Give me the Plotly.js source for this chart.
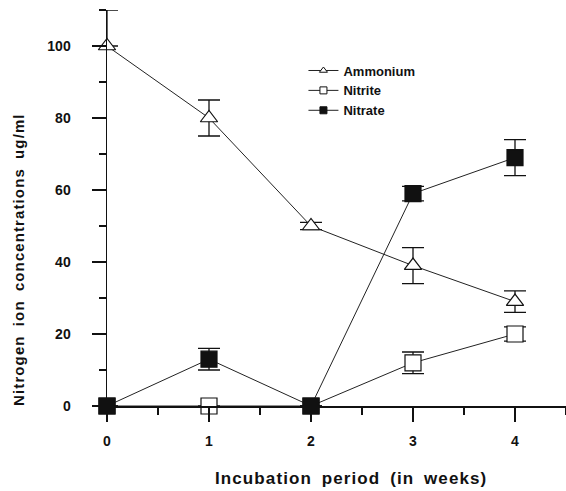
<!DOCTYPE html>
<html>
<head>
<meta charset="utf-8">
<script src="https://cdn.plot.ly/plotly-3.0.1.min.js"></script>
<style>
  html, body { margin: 0; padding: 0; background: #fff; }
  #chart { width: 566px; height: 491px; }
  .annotation-text { letter-spacing: 1.1px; word-spacing: 4px; }
</style>
</head>
<body>
<div id="chart"></div>
<script>
// Data
const weeks = [0, 1, 2, 3, 4];
const ammonium = [100, 80, 50, 39, 29];
const ammoniumErrUp = [10, 5, 1, 5, 3];
const ammoniumErrDown = [0, 5, 1, 5, 3];
const nitrite = [0, 0, 0, 12, 20];
const nitriteErr = [0, 0, 0, 3, 2];
const nitrate = [0, 13, 0, 59, 69];
const nitrateErr = [0, 3, 0, 2, 5];
const seriesNames = ['Ammonium', 'Nitrite', 'Nitrate'];
const xTicks = [0, 1, 2, 3, 4];
const yTicks = [0, 20, 40, 60, 80, 100];
const xTitle = 'Incubation period (in weeks)';
const yTitle = 'Nitrogen ion concentrations ug/ml';

const font = 'Liberation Sans, Arial, sans-serif';
const errStyle = { color: '#111', thickness: 1.3, width: 11 };

const traces = [
  {
    x: weeks, y: ammonium, mode: 'lines+markers', showlegend: false,
    line: { color: '#222', width: 1 },
    marker: { symbol: 'triangle-up', size: 15, color: '#fff', line: { color: '#111', width: 1.2 } },
    error_y: Object.assign({ type: 'data', symmetric: false, array: ammoniumErrUp, arrayminus: ammoniumErrDown }, errStyle),
    cliponaxis: false
  },
  {
    x: weeks, y: nitrite, mode: 'lines+markers', showlegend: false,
    line: { color: '#222', width: 1 },
    marker: { symbol: 'square', size: 16, color: '#fff', line: { color: '#111', width: 1.2 } },
    error_y: Object.assign({ type: 'data', array: nitriteErr }, errStyle),
    cliponaxis: false
  },
  {
    x: weeks, y: nitrate, mode: 'lines+markers', showlegend: false,
    line: { color: '#222', width: 1 },
    marker: { symbol: 'square', size: 16, color: '#111', line: { color: '#111', width: 1.2 } },
    error_y: Object.assign({ type: 'data', array: nitrateErr }, errStyle),
    cliponaxis: false
  },
  // legend entries with small symbols
  { x: [null], y: [null], mode: 'lines+markers', name: seriesNames[0],
    line: { color: '#222', width: 1 },
    marker: { symbol: 'triangle-up', size: 7, color: '#fff', line: { color: '#111', width: 1 } } },
  { x: [null], y: [null], mode: 'lines+markers', name: seriesNames[1],
    line: { color: '#222', width: 1 },
    marker: { symbol: 'square', size: 7, color: '#fff', line: { color: '#111', width: 1 } } },
  { x: [null], y: [null], mode: 'lines+markers', name: seriesNames[2],
    line: { color: '#222', width: 1 },
    marker: { symbol: 'square', size: 7, color: '#111', line: { color: '#111', width: 1 } } }
];

const layout = {
  width: 566, height: 491,
  margin: { l: 107, r: 0, t: 10, b: 85 },
  paper_bgcolor: '#fff', plot_bgcolor: '#fff',
  font: { family: font, color: '#111' },
  showlegend: true,
  legend: {
    x: 0.428, y: 0.885, xanchor: 'left', yanchor: 'top',
    bgcolor: 'rgba(0,0,0,0)',
    font: { family: font, size: 13, color: '#111', weight: 'bold' },
    tracegroupgap: 0
  },
  xaxis: {
    range: [0, 4.5], tickvals: xTicks, ticktext: xTicks.map(String),
    showgrid: false, zeroline: false,
    showline: true, linecolor: '#111', linewidth: 1.5,
    ticks: 'outside', ticklen: 14, tickwidth: 1.2, tickcolor: '#111',
    ticklabelstandoff: 8,
    minor: { dtick: 0.5, tick0: 0, ticks: 'outside', ticklen: 7, tickwidth: 1.2, tickcolor: '#111', showgrid: false },
    tickfont: { family: font, size: 14, color: '#111', weight: 'bold' },
    automargin: false, fixedrange: true
  },
  yaxis: {
    range: [0, 110], tickvals: yTicks, ticktext: yTicks.map(String),
    showgrid: false, zeroline: false,
    showline: true, linecolor: '#111', linewidth: 1.5,
    ticks: 'outside', ticklen: 14, tickwidth: 1.2, tickcolor: '#111',
    ticklabelstandoff: 18,
    minor: { dtick: 10, tick0: 0, ticks: 'outside', ticklen: 7, tickwidth: 1.2, tickcolor: '#111', showgrid: false },
    tickfont: { family: font, size: 14, color: '#111', weight: 'bold' },
    automargin: false, fixedrange: true
  },
  annotations: [
    { text: xTitle, xref: 'paper', yref: 'paper', x: 0.532, y: 0, xanchor: 'center', yanchor: 'middle',
      yshift: -72, showarrow: false, font: { family: font, size: 17, color: '#111', weight: 'bold' } },
    { text: yTitle, xref: 'paper', yref: 'paper', x: 0, y: 0.369, xanchor: 'center', yanchor: 'middle',
      xshift: -88, textangle: -90, showarrow: false, font: { family: font, size: 15, color: '#111', weight: 'bold' } }
  ]
};

Plotly.newPlot('chart', traces, layout, { displayModeBar: false, staticPlot: true });
</script>
</body>
</html>
